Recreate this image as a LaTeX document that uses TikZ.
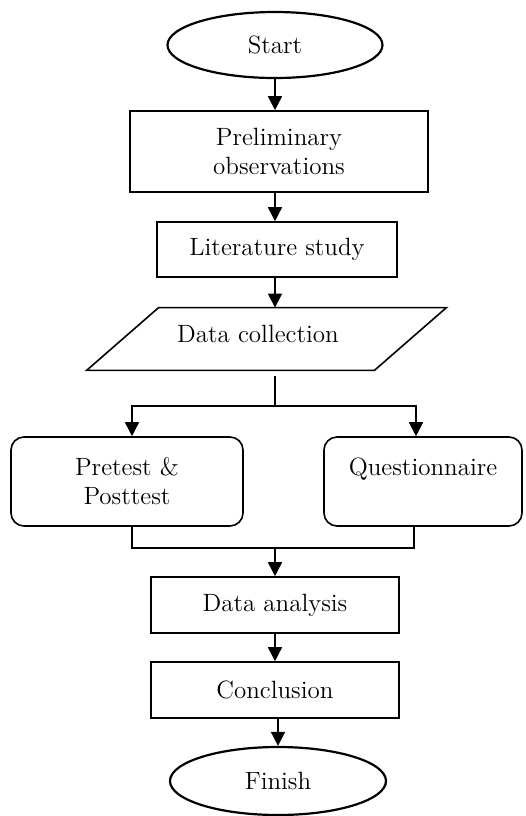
\documentclass[tikz,border=0pt]{standalone}
\usepackage{tikz}
\usetikzlibrary{arrows.meta, positioning, shapes.geometric}

\begin{document}
\begin{tikzpicture}[x=0.5pt,y=-0.5pt,>={Triangle[length=7pt,width=7pt]},
  every node/.style={font=\fontsize{12.5}{14.5}\selectfont, align=center},
  terminal/.style={draw, ellipse, line width=1.1pt, inner sep=0pt},
  process/.style={draw, rectangle, line width=0.8pt, inner sep=0pt},
  branch/.style={draw, rectangle, rounded corners=6.5pt, line width=0.8pt, inner sep=0pt},
  flow/.style={->, line width=0.8pt}]

\useasboundingbox (0,0) rectangle (526,816);

% Steps
\node[terminal, minimum width=107.5pt, minimum height=33pt] (start) at (275,45) {Start};
\node[process, minimum width=149pt, minimum height=40.5pt] (prelim) at (279,151.5) {Preliminary\\observations};
\node[process, minimum width=120pt, minimum height=27.5pt] (lit) at (277,249.5) {Literature study};

% Data collection (parallelogram)
\node[minimum width=179.5pt, minimum height=31pt, inner sep=0pt] (coll) at (266.5,339) {};
\draw[line width=0.8pt] ([xshift=36pt]coll.north west) -- (coll.north east)
  -- ([xshift=-36pt]coll.south east) -- (coll.south west) -- cycle;
\node (colltext) at (258,334) {Data collection};

% Branches
\node[branch, minimum width=116pt, minimum height=44.5pt] (pre) at (127,481.5) {Pretest \&\\Posttest};
\node[branch, minimum width=99pt, minimum height=44.5pt] (quest) at (423,481.5) {Questionnaire\\\mbox{}};

\node[process, minimum width=124pt, minimum height=28pt] (ana) at (275,605) {Data analysis};
\node[process, minimum width=124pt, minimum height=28pt] (conc) at (275,690) {Conclusion};
\node[terminal, minimum width=108pt, minimum height=34pt] (fin) at (278,781) {Finish};

% Arrows
\draw[flow] (start.south) -- (start.south |- prelim.north);
\draw[flow] (prelim.south -| start.south) -- (lit.north -| start.south);
\draw[flow] (lit.south -| start.south) -- (coll.north -| start.south);

\coordinate (split) at (275,406);
\coordinate (join) at (275,548);
\draw[line width=0.8pt] ([yshift=-3pt]coll.south -| split) -- (split);
\draw[flow] (split) -| ([xshift=2.5pt]pre.north);
\draw[flow] (split) -| ([xshift=-3.5pt]quest.north);
\draw[line width=0.8pt] ([xshift=2.5pt]pre.south) |- (join) -| ([xshift=-4.5pt]quest.south);

\draw[flow] (join) -- (ana.north);
\draw[flow] (ana) -- (conc);
\draw[flow] (conc.south -| fin.north) -- (fin.north);

\end{tikzpicture}
\end{document}
